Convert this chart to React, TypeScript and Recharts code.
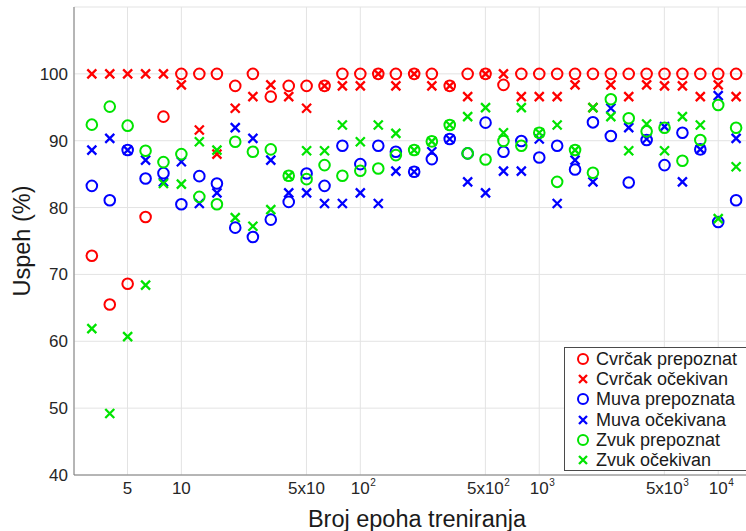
import React from 'react';
import { ScatterChart, Scatter, XAxis, YAxis, CartesianGrid, Legend } from 'recharts';

// Number of training epochs (log-spaced)
const epochs = [
  3.16, 3.98, 5.01, 6.31, 7.94, 10, 12.6, 15.8, 20, 25.1, 31.6, 39.8, 50.1, 63.1, 79.4,
  100, 126, 158, 200, 251, 316, 398, 501, 631, 794, 1000, 1259, 1585, 1995, 2512,
  3162, 3981, 5012, 6310, 7943, 10000, 12589,
];

const cvrcakPrepoznat = [
  72.8, 65.5, 68.6, 78.6, 93.6, 100, 100, 100, 98.2, 100, 96.6, 98.2, 98.2, 98.2, 100,
  100, 100, 100, 100, 100, 98.2, 100, 100, 98.35, 100, 100, 100, 100, 100, 100,
  100, 100, 100, 100, 100, 100, 100,
];
const cvrcakOcekivan = [
  100, 100, 100, 100, 100, 98.35, 91.6, 88.0, 94.85, 96.6, 98.35, 96.6, 94.85, 98.2, 98.2,
  98.2, 100, 98.2, 100, 98.2, 98.2, 96.6, 100, 100, 96.6, 96.6, 96.6, 98.35, 94.95, 98.35,
  96.6, 98.35, 98.2, 98.2, 96.6, 98.35, 96.6,
];
const muvaPrepoznata = [
  83.25, 81.1, 88.6, 84.35, 85.15, 80.5, 84.7, 83.6, 77.0, 75.6, 78.2, 80.85, 85.1, 83.25, 89.25,
  86.5, 89.25, 88.35, 85.35, 87.25, 90.25, 88.1, 92.7, 88.35, 89.95, 87.5, 89.25, 85.7, 92.75, 90.7,
  83.75, 90.1, 86.35, 91.2, 88.7, 77.85, 81.1,
];
const muvaOcekivana = [
  88.6, 90.35, 88.6, 87.1, 83.85, 86.85, 80.6, 82.2, 91.95, 90.35, 87.1, 82.2, 82.2, 80.6, 80.6,
  82.2, 80.6, 85.45, 85.35, 88.35, 90.25, 83.85, 82.2, 85.45, 85.45, 90.25, 80.6, 87.1, 83.85, 94.85,
  91.95, 90.25, 92.1, 83.85, 88.7, 96.75, 90.35,
];
const zvukPrepoznat = [
  92.4, 95.1, 92.25, 88.5, 86.8, 88.0, 81.6, 80.5, 89.85, 88.35, 88.7, 84.75, 84.25, 86.35, 84.75,
  85.5, 85.85, 87.85, 88.6, 89.9, 92.35, 88.1, 87.2, 89.95, 89.25, 91.2, 83.85, 88.6, 85.2, 96.2,
  93.35, 91.4, 91.95, 87.0, 90.1, 95.35, 91.95,
];
const zvukOcekivan = [
  61.9, 49.2, 60.7, 68.4, 83.6, 83.5, 89.85, 88.6, 78.5, 77.2, 79.7, 84.75, 88.5, 88.5, 92.35,
  89.85, 92.35, 91.1, 88.6, 89.9, 92.35, 93.6, 94.95, 91.2, 94.95, 91.2, 92.35, 88.6, 94.95, 93.6,
  88.5, 92.5, 88.5, 93.6, 92.35, 78.35, 86.1,
];

const xTicks = [5, 10, 50, 100, 500, 1000, 5000, 10000];
const xTickBase = ['5', '10', '5x10', '10', '5x10', '10', '5x10', '10'];
const xTickSup = ['', '', '', '2', '2', '3', '3', '4'];
const yTicks = [40, 50, 60, 70, 80, 90, 100, 110];
const yTickLabels = ['40', '50', '60', '70', '80', '90', '100', ''];

const RED = '#ff0000';
const BLUE = '#0000ff';
const GREEN = '#00e400';
const FONT = '"Liberation Sans", Arial, Helvetica, sans-serif';

type Series = { name: string; values: number[]; color: string; marker: 'o' | 'x' };

const series: Series[] = [
  { name: 'Cvrčak prepoznat', values: cvrcakPrepoznat, color: RED, marker: 'o' },
  { name: 'Cvrčak očekivan', values: cvrcakOcekivan, color: RED, marker: 'x' },
  { name: 'Muva prepoznata', values: muvaPrepoznata, color: BLUE, marker: 'o' },
  { name: 'Muva očekivana', values: muvaOcekivana, color: BLUE, marker: 'x' },
  { name: 'Zvuk prepoznat', values: zvukPrepoznat, color: GREEN, marker: 'o' },
  { name: 'Zvuk očekivan', values: zvukOcekivan, color: GREEN, marker: 'x' },
];

const toData = (vals: number[]) => epochs.map((x, i) => ({ x, y: vals[i] }));

const makeShape = (color: string, marker: 'o' | 'x') => (props: any) => {
  const { cx, cy } = props;
  if (cx == null || cy == null) return <g />;
  if (marker === 'o') {
    return <circle cx={cx} cy={cy} r={5.3} fill="none" stroke={color} strokeWidth={2} />;
  }
  const h = 4.5;
  return (
    <path
      d={`M${cx - h},${cy - h}L${cx + h},${cy + h}M${cx - h},${cy + h}L${cx + h},${cy - h}`}
      stroke={color}
      strokeWidth={2.3}
      fill="none"
    />
  );
};

const XTick = (props: any) => {
  const { x, y, payload } = props;
  const i = xTicks.indexOf(payload.value);
  if (i < 0) return <g />;
  const base = xTickBase[i];
  const sup = xTickSup[i];
  const halfW = base === '10' ? 9.5 : base === '5' ? 4.7 : 18.4;
  return (
    <g>
      <text x={x} y={y + 11} textAnchor="middle" fontSize={17} fill="#262626" fontFamily={FONT}>
        {base}
      </text>
      {sup ? (
        <text x={x + halfW + 0.5} y={y + 3} textAnchor="start" fontSize={10} fill="#262626" fontFamily={FONT}>
          {sup}
        </text>
      ) : null}
    </g>
  );
};

const YTick = (props: any) => {
  const { x, y, payload } = props;
  const i = yTicks.indexOf(payload.value);
  const label = i >= 0 ? yTickLabels[i] : '';
  if (!label) return <g />;
  return (
    <text x={x} y={y + 6} textAnchor="end" fontSize={17} fill="#262626" fontFamily={FONT}>
      {label}
    </text>
  );
};

const renderLegend = () => (
  <div
    style={{
      border: '1px solid #4a4a4a',
      background: '#ffffff',
      width: 200,
      height: 124,
      boxSizing: 'border-box',
      paddingTop: 1,
      fontFamily: FONT,
    }}
  >
    {series.map((s) => (
      <div
        key={s.name}
        style={{ display: 'flex', alignItems: 'center', height: 20.2, whiteSpace: 'nowrap' }}
      >
        <svg width={14} height={14} style={{ marginLeft: 11, marginRight: 6, flex: 'none' }}>
          {s.marker === 'o' ? (
            <circle cx={7} cy={7} r={5} fill="none" stroke={s.color} strokeWidth={2} />
          ) : (
            <path d="M3,3L11,11M3,11L11,3" stroke={s.color} strokeWidth={2.3} />
          )}
        </svg>
        <span style={{ fontSize: 18, color: '#1a1a1a', lineHeight: '20px' }}>{s.name}</span>
      </div>
    ))}
  </div>
);

export default function App() {
  return (
    <div
      style={{
        position: 'absolute',
        left: 0,
        top: 0,
        width: 746,
        height: 531,
        overflow: 'hidden',
        background: '#ffffff',
      }}
    >
      <ScatterChart width={754} height={531} margin={{ top: 7, right: 0, bottom: 0, left: 14 }}>
        <CartesianGrid stroke="#e3e3e3" strokeWidth={1} />
        <XAxis
          type="number"
          dataKey="x"
          scale="log"
          domain={[2.512, 15849]}
          ticks={xTicks}
          allowDataOverflow
          height={56}
          tickLine={false}
          tickSize={6}
          tickMargin={2}
          axisLine={{ stroke: '#7a7a7a', strokeWidth: 1 }}
          tick={<XTick />}
          interval={0}
          label={{
            content: () => (
              <text x={417} y={527} textAnchor="middle" fontSize={23.5} fill="#1a1a1a" fontFamily={FONT}>
                Broj epoha treniranja
              </text>
            ),
          }}
        />
        <YAxis
          type="number"
          dataKey="y"
          domain={[40, 110]}
          ticks={yTicks}
          allowDataOverflow
          width={60}
          tickLine={false}
          tickSize={4}
          tickMargin={2}
          axisLine={{ stroke: '#7a7a7a', strokeWidth: 1 }}
          tick={<YTick />}
          interval={0}
          label={{
            content: () => (
              <text
                x={30}
                y={241}
                textAnchor="middle"
                fontSize={23.5}
                fill="#1a1a1a"
                fontFamily={FONT}
                transform="rotate(-90 30 241)"
              >
                Uspeh (%)
              </text>
            ),
          }}
        />
        <Legend
          content={renderLegend}
          layout="vertical"
          align="center"
          verticalAlign="middle"
          wrapperStyle={{ position: 'absolute', left: 564, top: 347, width: 200, height: 124 }}
        />
        {series.map((s) => (
          <Scatter
            key={s.name}
            name={s.name}
            data={toData(s.values)}
            fill={s.color}
            shape={makeShape(s.color, s.marker)}
            isAnimationActive={false}
          />
        ))}
      </ScatterChart>
    </div>
  );
}
